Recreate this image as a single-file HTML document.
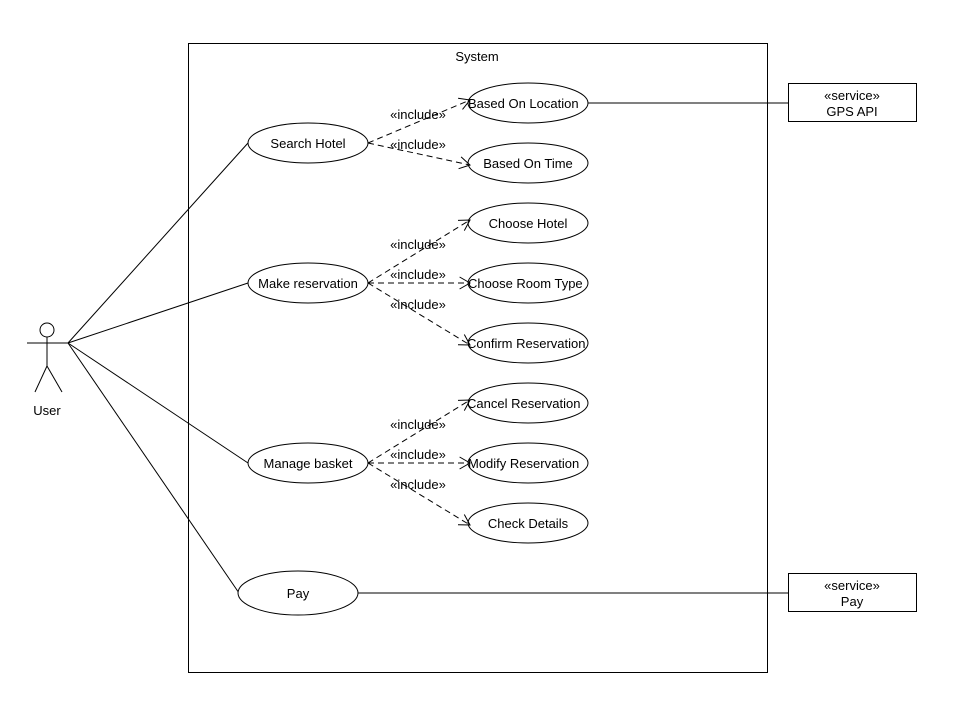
<!DOCTYPE html>
<html><head><meta charset="utf-8"><style>
html,body{margin:0;padding:0;background:#fff;}
svg{display:block;}
text{font-family:"Liberation Sans",Arial,sans-serif;font-size:13px;fill:#000;}
</style></head><body>
<svg width="973" height="723" viewBox="0 0 973 723" xmlns="http://www.w3.org/2000/svg">
<defs>
<clipPath id="c"><rect x="468" y="80" width="120" height="470"/></clipPath>
</defs>
<rect x="188.5" y="43.5" width="579" height="629" fill="#fff" stroke="#000"/>
<text x="477" y="61" text-anchor="middle">System</text>

<g stroke="#000" fill="none">
<circle cx="47" cy="330" r="7" fill="#fff"/>
<line x1="47" y1="337" x2="47" y2="366"/>
<line x1="27" y1="343" x2="68" y2="343"/>
<line x1="47" y1="366" x2="35" y2="392"/>
<line x1="47" y1="366" x2="62" y2="392"/>
<line x1="68" y1="343" x2="248" y2="143"/>
<line x1="68" y1="343" x2="248" y2="283"/>
<line x1="68" y1="343" x2="248" y2="463"/>
<line x1="68" y1="343" x2="239" y2="593"/>
<line x1="588" y1="103" x2="788" y2="103"/>
<line x1="358" y1="593" x2="788" y2="593"/>
</g>
<text x="47" y="415" text-anchor="middle">User</text>

<g stroke="#000" fill="none" stroke-dasharray="6,4">
<line x1="368" y1="143" x2="470" y2="100"/>
<line x1="368" y1="143" x2="470" y2="165"/>
<line x1="368" y1="283" x2="470" y2="220"/>
<line x1="368" y1="283" x2="470" y2="283"/>
<line x1="368" y1="283" x2="470" y2="345"/>
<line x1="368" y1="463" x2="470" y2="400"/>
<line x1="368" y1="463" x2="470" y2="463"/>
<line x1="368" y1="463" x2="470" y2="525"/>
</g>
<g>
<text x="418" y="119" text-anchor="middle">«include»</text>
<text x="418" y="149" text-anchor="middle">«include»</text>
<text x="418" y="249" text-anchor="middle">«include»</text>
<text x="418" y="279" text-anchor="middle">«include»</text>
<text x="418" y="309" text-anchor="middle">«include»</text>
<text x="418" y="429" text-anchor="middle">«include»</text>
<text x="418" y="459" text-anchor="middle">«include»</text>
<text x="418" y="489" text-anchor="middle">«include»</text>
</g>

<g fill="#fff" stroke="#000">
<ellipse cx="308" cy="143" rx="60" ry="20"/>
<ellipse cx="308" cy="283" rx="60" ry="20"/>
<ellipse cx="308" cy="463" rx="60" ry="20"/>
<ellipse cx="298" cy="593" rx="60" ry="22"/>
</g>
<text x="308" y="148" text-anchor="middle">Search Hotel</text>
<text x="308" y="288" text-anchor="middle">Make reservation</text>
<text x="308" y="468" text-anchor="middle">Manage basket</text>
<text x="298" y="598" text-anchor="middle">Pay</text>

<g fill="#fff" stroke="#000">
<ellipse cx="528" cy="103" rx="60" ry="20"/>
<ellipse cx="528" cy="163" rx="60" ry="20"/>
<ellipse cx="528" cy="223" rx="60" ry="20"/>
<ellipse cx="528" cy="283" rx="60" ry="20"/>
<ellipse cx="528" cy="343" rx="60" ry="20"/>
<ellipse cx="528" cy="403" rx="60" ry="20"/>
<ellipse cx="528" cy="463" rx="60" ry="20"/>
<ellipse cx="528" cy="523" rx="60" ry="20"/>
</g>
<g stroke="#000" fill="none">
<path d="M458.1,98.2 L470,100 L462.5,109.4"/>
<path d="M461.1,156.9 L470,165 L458.6,168.7"/>
<path d="M458,220.4 L470,220 L464.3,230.6"/>
<path d="M459.6,277 L470,283 L459.6,289"/>
<path d="M464.3,334.5 L470,345 L458,344.7"/>
<path d="M458,400.4 L470,400 L464.3,410.6"/>
<path d="M459.6,457 L470,463 L459.6,469"/>
<path d="M464.3,514.5 L470,525 L458,524.7"/>
</g>
<g clip-path="url(#c)">
<text x="468" y="108">Based On Location</text>
<text x="528" y="168" text-anchor="middle">Based On Time</text>
<text x="528" y="228" text-anchor="middle">Choose Hotel</text>
<text x="468" y="288">Choose Room Type</text>
<text x="467" y="348">Confirm Reservation</text>
<text x="467" y="408">Cancel Reservation</text>
<text x="468" y="468">Modify Reservation</text>
<text x="528" y="528" text-anchor="middle">Check Details</text>
</g>

<rect x="788.5" y="83.5" width="128" height="38" fill="#fff" stroke="#000"/>
<text x="852" y="100" text-anchor="middle">«service»</text>
<text x="852" y="116" text-anchor="middle">GPS API</text>
<rect x="788.5" y="573.5" width="128" height="38" fill="#fff" stroke="#000"/>
<text x="852" y="590" text-anchor="middle">«service»</text>
<text x="852" y="606" text-anchor="middle">Pay</text>
</svg>
</body></html>
